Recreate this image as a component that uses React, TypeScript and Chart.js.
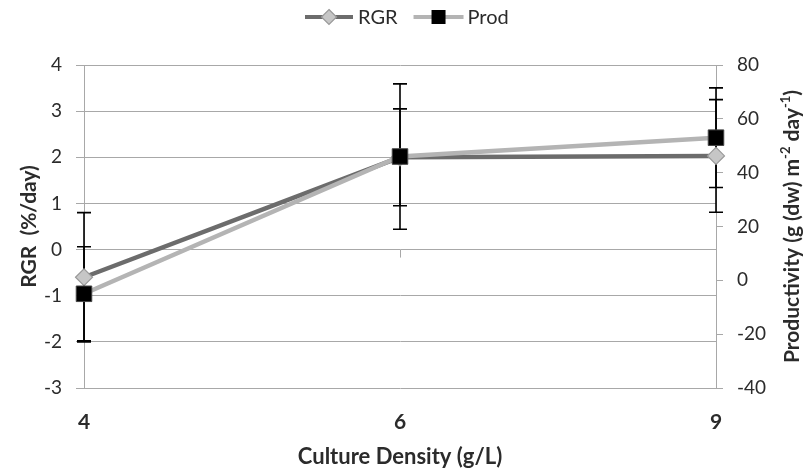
import { useEffect, useRef } from 'react';
import { Chart, registerables } from 'chart.js';

Chart.register(...registerables);

// Culture density categories (g/L)
const categories = ['4', '6', '9'];

// Relative growth rate (%/day) with error bar half-widths
const rgrValues = [-0.6, 2.0, 2.03];
const rgrErrors = [1.4, 1.05, 1.22];

// Productivity (g (dw) m-2 day-1) with error bar half-widths
const prodValues = [-5, 46, 53];
const prodErrors = [17.5, 27, 18.5];

// Axis ranges and tick steps
const rgrRange = [-3, 4];
const rgrStep = 1;
const prodRange = [-40, 80];
const prodStep = 20;

const FONT = "Lato, 'Open Sans', 'Liberation Sans', sans-serif";
const GRID = '#a8a8a8';
const TEXT = '#2b2b2b';
const RGR_LINE = '#6c6c6c';
const PROD_LINE = '#b4b4b4';
const DIAMOND_FILL = '#c6c6c6';
const DIAMOND_EDGE = '#9a9a9a';

const errorSets = [rgrErrors, prodErrors];

const errorBarPlugin = {
  id: 'errorBars',
  beforeDatasetsDraw(chart: any) {
    const { ctx } = chart;
    const xs = chart.scales.x;
    ctx.save();
    // small category tick marks on the zero line
    const y0 = chart.scales.y.getPixelForValue(0);
    ctx.strokeStyle = GRID;
    ctx.lineWidth = 1;
    categories.forEach((_, j) => {
      const px = Math.round(xs.getPixelForValue(j)) + 0.5;
      ctx.beginPath();
      ctx.moveTo(px, y0);
      ctx.lineTo(px, y0 + 8);
      ctx.stroke();
    });
    ctx.strokeStyle = '#000';
    ctx.lineWidth = 1.6;
    chart.data.datasets.forEach((ds: any, i: number) => {
      const ys = chart.scales[ds.yAxisID];
      const errs = errorSets[i];
      ds.data.forEach((v: number, j: number) => {
        const px = xs.getPixelForValue(j);
        const top = ys.getPixelForValue(v + errs[j]);
        const bot = ys.getPixelForValue(v - errs[j]);
        ctx.beginPath();
        ctx.moveTo(px, top);
        ctx.lineTo(px, bot);
        ctx.moveTo(px - 7, top);
        ctx.lineTo(px + 7, top);
        ctx.moveTo(px - 7, bot);
        ctx.lineTo(px + 7, bot);
        ctx.stroke();
      });
    });
    ctx.restore();
  },
};

const legendAndTitlePlugin = {
  id: 'legendAndTitle',
  afterDraw(chart: any) {
    const { ctx } = chart;
    ctx.save();
    // legend
    const ly = 17;
    ctx.font = `20px ${FONT}`;
    ctx.textBaseline = 'middle';
    ctx.fillStyle = TEXT;
    let x = 305;
    ctx.lineWidth = 4;
    ctx.strokeStyle = RGR_LINE;
    ctx.beginPath();
    ctx.moveTo(x, ly);
    ctx.lineTo(x + 48, ly);
    ctx.stroke();
    ctx.beginPath();
    ctx.moveTo(x + 24, ly - 7.5);
    ctx.lineTo(x + 31.5, ly);
    ctx.lineTo(x + 24, ly + 7.5);
    ctx.lineTo(x + 16.5, ly);
    ctx.closePath();
    ctx.fillStyle = DIAMOND_FILL;
    ctx.fill();
    ctx.lineWidth = 1.2;
    ctx.strokeStyle = DIAMOND_EDGE;
    ctx.stroke();
    ctx.fillStyle = TEXT;
    ctx.fillText('RGR', x + 53, ly + 1);
    x = x + 53 + ctx.measureText('RGR').width + 16;
    ctx.lineWidth = 4;
    ctx.strokeStyle = PROD_LINE;
    ctx.beginPath();
    ctx.moveTo(x, ly);
    ctx.lineTo(x + 50, ly);
    ctx.stroke();
    ctx.fillStyle = '#000';
    ctx.fillRect(x + 18, ly - 7, 14, 14);
    ctx.fillStyle = TEXT;
    ctx.fillText('Prod', x + 54, ly + 1);

    // right axis title with superscripts, reading upward
    const parts: [string, boolean][] = [
      ['Productivity (g (dw) m', false],
      ['-2', true],
      [' day', false],
      ['-1', true],
      [')', false],
    ];
    const main = `bold 21px ${FONT}`;
    const sup = `bold 13px ${FONT}`;
    let total = 0;
    parts.forEach(([t, s]) => {
      ctx.font = s ? sup : main;
      total += ctx.measureText(t).width;
    });
    const area = chart.chartArea;
    ctx.translate(792, (area.top + area.bottom) / 2);
    ctx.rotate(-Math.PI / 2);
    ctx.textBaseline = 'middle';
    ctx.textAlign = 'left';
    ctx.fillStyle = TEXT;
    let cx = -total / 2;
    parts.forEach(([t, s]) => {
      ctx.font = s ? sup : main;
      ctx.fillText(t, cx, s ? -6 : 0);
      cx += ctx.measureText(t).width;
    });
    ctx.restore();
  },
};

export default function App() {
  const ref = useRef<HTMLCanvasElement | null>(null);

  useEffect(() => {
    document.body.style.margin = '0';
    if (!ref.current) return;
    const chart = new Chart(ref.current, {
      type: 'line',
      data: {
        labels: categories,
        datasets: [
          {
            label: 'RGR',
            data: rgrValues,
            yAxisID: 'y',
            borderColor: RGR_LINE,
            borderWidth: 4.5,
            pointStyle: 'rectRot',
            pointRadius: 8.5,
            pointBackgroundColor: DIAMOND_FILL,
            pointBorderColor: DIAMOND_EDGE,
            pointBorderWidth: 1.2,
            tension: 0,
            order: 2,
          },
          {
            label: 'Prod',
            data: prodValues,
            yAxisID: 'y2',
            borderColor: PROD_LINE,
            borderWidth: 4.5,
            pointStyle: 'rect',
            pointRadius: 11,
            pointBackgroundColor: '#000',
            pointBorderColor: '#444',
            pointBorderWidth: 1,
            tension: 0,
            order: 1,
          },
        ],
      },
      options: {
        responsive: false,
        animation: false,
        layout: { padding: { top: 65, left: 0, right: 0, bottom: 0 } },
        plugins: {
          legend: { display: false },
          tooltip: { enabled: false },
        },
        scales: {
          x: {
            type: 'category',
            offset: false,
            grid: { display: false, drawTicks: false },
            border: { display: false },
            ticks: {
              font: { family: FONT, size: 21, weight: 'bold' },
              color: TEXT,
              padding: 22,
              maxRotation: 0,
            },
            title: {
              display: true,
              text: 'Culture Density (g/L)',
              font: { family: FONT, size: 22, weight: 'bold' },
              color: TEXT,
              padding: { top: 0, bottom: 0 },
            },
            afterFit(s: any) {
              s.height = 82;
            },
          },
          y: {
            position: 'left',
            min: rgrRange[0],
            max: rgrRange[1],
            ticks: {
              stepSize: rgrStep,
              font: { family: FONT, size: 19 },
              color: TEXT,
              padding: 14,
            },
            grid: { color: GRID, lineWidth: 1, tickLength: 8 },
            border: { color: GRID },
            title: {
              display: true,
              text: 'RGR  (%/day)',
              font: { family: FONT, size: 21, weight: 'bold' },
              color: TEXT,
              padding: { top: 17, bottom: 0 },
            },
            afterFit(s: any) {
              s.width = 84;
            },
          },
          y2: {
            position: 'right',
            min: prodRange[0],
            max: prodRange[1],
            ticks: {
              stepSize: prodStep,
              font: { family: FONT, size: 19 },
              color: TEXT,
              padding: 14,
            },
            grid: { drawOnChartArea: false, color: GRID, tickLength: 7 },
            border: { color: GRID },
            afterFit(s: any) {
              s.width = 87;
            },
          },
        },
      },
      plugins: [errorBarPlugin, legendAndTitlePlugin],
    } as any);
    return () => chart.destroy();
  }, []);

  return (
    <div style={{ width: 803, height: 470 }}>
      <canvas ref={ref} width={803} height={470} />
    </div>
  );
}
